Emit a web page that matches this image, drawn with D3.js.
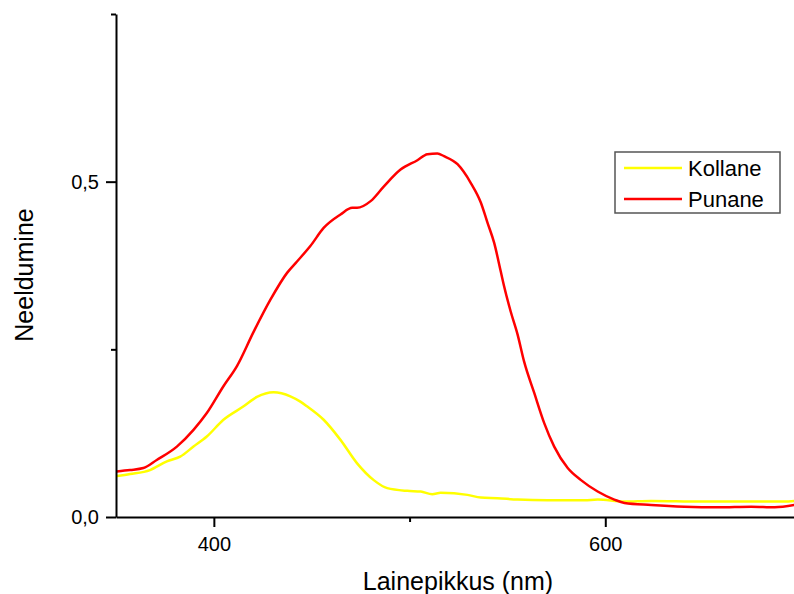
<!DOCTYPE html>
<html>
<head>
<meta charset="utf-8">
<script src="https://cdn.jsdelivr.net/npm/d3@7"></script>
<style>
  body { margin: 0; background: #fff; }
  text { font-family: Arial, "Liberation Sans", sans-serif; }
</style>
</head>
<body>
<div id="my_dataviz"></div>
<script>
// Kollane (yellow) spectrum
const kollaneNm = [350.4, 357.2, 367.4, 376.0, 382.8, 389.6, 396.4, 404.9, 415.2, 422.0, 430.5, 439.1,
                   444.2, 447.6, 456.1, 464.7, 473.2, 481.7, 488.6, 498.8, 505.7, 511.6, 515.9, 529.6,
                   536.4, 544.9, 555.2, 570.5, 589.3, 596.1, 609.6, 623.4, 649.0, 665.9, 691.5, 696.6];
const kollaneAbs = [0.061, 0.064, 0.070, 0.083, 0.090, 0.105, 0.120, 0.145, 0.165, 0.179, 0.186, 0.180,
                    0.172, 0.165, 0.145, 0.115, 0.080, 0.055, 0.043, 0.039, 0.038, 0.034, 0.036, 0.033,
                    0.029, 0.028, 0.026, 0.025, 0.025, 0.026, 0.023, 0.024, 0.023, 0.023, 0.023, 0.024];

// Punane (red) spectrum
const punaneNm = [350.4, 357.2, 364.0, 370.8, 381.1, 389.6, 396.4, 404.9, 411.8, 420.3, 428.9, 437.4,
                  442.5, 449.3, 456.1, 464.7, 470.7, 473.2, 480.1, 486.9, 495.4, 504.0, 509.1, 514.2,
                  517.6, 524.5, 531.3, 536.4, 539.8, 543.2, 546.6, 548.3, 551.7, 555.2, 558.5, 563.7,
                  568.8, 573.9, 580.8, 587.6, 596.1, 604.6, 609.8, 623.4, 640.5, 657.6, 674.6, 686.6, 696.8];
const punaneAbs = [0.068, 0.070, 0.073, 0.085, 0.105, 0.130, 0.155, 0.195, 0.225, 0.276, 0.324, 0.364,
                   0.381, 0.404, 0.431, 0.451, 0.461, 0.461, 0.471, 0.493, 0.518, 0.532, 0.541, 0.542,
                   0.538, 0.526, 0.498, 0.469, 0.439, 0.409, 0.366, 0.344, 0.306, 0.272, 0.232, 0.185,
                   0.140, 0.105, 0.073, 0.055, 0.038, 0.026, 0.021, 0.018, 0.0154, 0.0145, 0.0154, 0.0145, 0.018];

const xMajor = [400, 600];
const xMinor = [500, 700];
const yMajor = [0, 0.5];
const yMinor = [0.25, 0.75];

const seriesNames = ["Kollane", "Punane"];
const seriesColors = ["#ffff00", "#ff0000"];

const width = 794, height = 594;

const svg = d3.select("#my_dataviz")
  .append("svg")
  .attr("width", width)
  .attr("height", height);

// Scales (plot runs past the right edge of the window)
const x = d3.scaleLinear().domain([350, 700]).range([116, 801]);
const y = d3.scaleLinear().domain([0, 0.75]).range([517, 14]);

const fmt = d => d3.format(".1f")(d).replace(".", ",");

// Series lines
const line = d3.line()
  .x(d => x(d[0]))
  .y(d => y(d[1]))
  .curve(d3.curveMonotoneX);

const series = [
  d3.zip(kollaneNm, kollaneAbs),
  d3.zip(punaneNm, punaneAbs)
];

series.forEach((s, i) => {
  svg.append("path")
    .datum(s)
    .attr("fill", "none")
    .attr("stroke", seriesColors[i])
    .attr("stroke-width", 2.5)
    .attr("stroke-linejoin", "round")
    .attr("d", line);
});

// Axes
function styleAxis(g) {
  g.select(".domain").attr("stroke", "#000").attr("stroke-width", 2);
  g.selectAll(".tick line").attr("stroke", "#000").attr("stroke-width", 2);
  g.selectAll("text").attr("fill", "#000").attr("font-size", 20);
}

svg.append("g")
  .attr("transform", `translate(0,${y(0)})`)
  .call(d3.axisBottom(x).tickValues(xMajor).tickSize(10).tickSizeOuter(0).tickPadding(10))
  .call(styleAxis);

svg.append("g")
  .attr("transform", `translate(0,${y(0)})`)
  .call(d3.axisBottom(x).tickValues(xMinor).tickSize(5).tickSizeOuter(0).tickFormat(""))
  .call(styleAxis)
  .select(".domain").remove();

svg.append("g")
  .attr("transform", `translate(${x(350)},0)`)
  .call(d3.axisLeft(y).tickValues(yMajor).tickSize(10).tickSizeOuter(0).tickPadding(7).tickFormat(fmt))
  .call(styleAxis);

svg.append("g")
  .attr("transform", `translate(${x(350)},0)`)
  .call(d3.axisLeft(y).tickValues(yMinor).tickSize(5).tickSizeOuter(0).tickFormat(""))
  .call(styleAxis)
  .select(".domain").remove();

// Axis titles
svg.append("text")
  .attr("x", 458)
  .attr("y", 590)
  .attr("text-anchor", "middle")
  .attr("font-size", 25)
  .text("Lainepikkus (nm)");

svg.append("text")
  .attr("transform", "translate(33,275) rotate(-90)")
  .attr("text-anchor", "middle")
  .attr("font-size", 25)
  .text("Neeldumine");

// Legend
const legend = svg.append("g");
legend.append("rect")
  .attr("x", 615)
  .attr("y", 152)
  .attr("width", 165)
  .attr("height", 61)
  .attr("fill", "#fff")
  .attr("stroke", "#555")
  .attr("stroke-width", 1.5);

seriesNames.forEach((name, i) => {
  const ly = 168 + i * 31;
  legend.append("line")
    .attr("x1", 624).attr("x2", 682)
    .attr("y1", ly).attr("y2", ly)
    .attr("stroke", seriesColors[i])
    .attr("stroke-width", 2.5);
  legend.append("text")
    .attr("x", 688)
    .attr("y", ly + 8)
    .attr("font-size", 22)
    .text(name);
});
</script>
</body>
</html>
